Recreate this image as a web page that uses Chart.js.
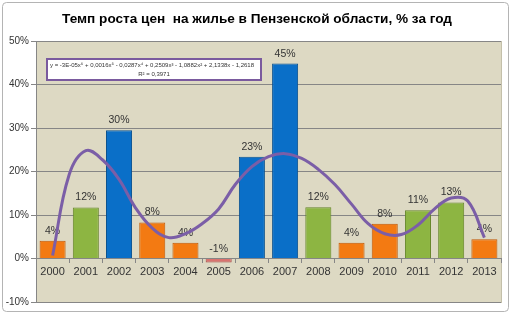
<!DOCTYPE html>
<html>
<head>
<meta charset="utf-8">
<script src="https://cdn.jsdelivr.net/npm/chart.js@4.4.1/dist/chart.umd.min.js"></script>
<style>
  html, body { margin: 0; padding: 0; background: #fff; }
  #wrap { width: 513px; height: 314px; }
</style>
</head>
<body>
<div id="wrap"><canvas id="chart"></canvas></div>
<script>
// years and price growth, % per year
const years = ['2000', '2001', '2002', '2003', '2004', '2005', '2006',
               '2007', '2008', '2009', '2010', '2011', '2012', '2013'];
const growth = [4.1, 11.7, 29.5, 8.3, 3.6, -0.9, 23.4, 44.8, 11.8, 3.6, 8.0, 11.1, 12.9, 4.4];

// polynomial trend line, every half year (0 = 2000)
const trendPos = [0, 0.5, 1, 1.5, 2, 2.5, 3, 3.5, 4, 4.5, 5, 5.5, 6, 6.5,
                  7, 7.5, 8, 8.5, 9, 9.5, 10, 10.5, 11, 11.5, 12, 12.5, 13];
const trendVal = [0.7, 19.3, 24.8, 22.7, 18.2, 11.6, 7.0, 4.8, 5.7, 8.0, 11.4, 17.0, 21.1, 23.4,
                  24.1, 23.0, 20.5, 17.0, 12.5, 8.0, 5.7, 5.5, 7.7, 11.4, 13.9, 13.2, 4.8];

const yMin = -10, yMax = 50, yStep = 10;
const trendLabel = ['y = -3E-05x\u2076 + 0,0016x\u2075 - 0,0287x\u2074 + 0,2509x\u00b3 - 1,0882x\u00b2 + 2,1338x - 1,2618',
                    'R\u00b2 = 0,3971'];
const title = 'Темп роста цен  на жилье в Пензенской области, % за год';

function barColor(v) {
    if (v < 0) return ['#d9736f', '#a94c48'];
    if (v < 10) return ['#f37a12', '#c25a06'];
    if (v < 20) return ['#8db542', '#66862a'];
    return ['#0a6fc8', '#08508f'];
}

const frame = {
    id: 'frame',
    beforeDraw(chart) {
        const ctx = chart.ctx;
        const a = chart.chartArea;
        ctx.save();
        ctx.fillStyle = '#fff';
        ctx.fillRect(0, 0, chart.width, chart.height);
        ctx.strokeStyle = '#b4b4b4';
        ctx.lineWidth = 1;
        ctx.beginPath();
        ctx.roundRect(2.5, 2.5, 506, 309, 4);
        ctx.stroke();
        // plot area
        ctx.fillStyle = '#ddd9c3';
        ctx.fillRect(a.left, a.top, a.right - a.left, a.bottom - a.top);
        ctx.strokeStyle = '#c4c0aa';
        ctx.strokeRect(a.left + 0.5, a.top + 0.5, a.right - a.left, a.bottom - a.top);
        // title
        ctx.fillStyle = '#000';
        ctx.font = 'bold 13.6px "Liberation Sans", Arial, sans-serif';
        ctx.textAlign = 'center';
        ctx.textBaseline = 'middle';
        ctx.fillText(title, 257, 19);
        ctx.restore();
    },
    afterDatasetDraw(chart, args) {
        if (args.index !== 0) return;
        const ctx = chart.ctx;
        const meta = chart.getDatasetMeta(0);
        const y0 = chart.scales.y.getPixelForValue(0);
        ctx.save();
        ctx.fillStyle = '#333';
        ctx.font = '10.5px "Liberation Sans", Arial, sans-serif';
        ctx.textAlign = 'center';
        ctx.textBaseline = 'middle';
        meta.data.forEach((bar, i) => {
            const v = growth[i];
            const y = v >= 0 ? bar.y - 10 : y0 - 9;
            ctx.fillText(Math.round(v) + '%', bar.x, y);
        });
        ctx.restore();
    },
    afterDraw(chart) {
        const ctx = chart.ctx;
        ctx.save();
        ctx.fillStyle = '#fff';
        ctx.fillRect(47, 59, 214, 21);
        ctx.strokeStyle = '#7a5a9e';
        ctx.lineWidth = 2;
        ctx.strokeRect(47, 59, 214, 21);
        ctx.fillStyle = '#333';
        ctx.font = '6px "Liberation Sans", Arial, sans-serif';
        ctx.textBaseline = 'middle';
        ctx.textAlign = 'left';
        ctx.fillText(trendLabel[0], 50, 65.5);
        ctx.textAlign = 'center';
        ctx.fillText(trendLabel[1], 154, 74);
        ctx.restore();
    }
};

new Chart(document.getElementById('chart'), {
    type: 'bar',
    data: {
        labels: years,
        datasets: [{
            type: 'bar',
            data: growth,
            backgroundColor: growth.map(v => barColor(v)[0]),
            borderColor: growth.map(v => barColor(v)[1]),
            borderWidth: 1,
            grouped: false,
            categoryPercentage: 0.8,
            barPercentage: 0.98,
            order: 2
        }, {
            type: 'line',
            xAxisID: 'xl',
            data: trendPos.map((p, i) => ({ x: p, y: trendVal[i] })),
            borderColor: '#7b5ea7',
            borderWidth: 3,
            pointRadius: 0,
            tension: 0.4,
            fill: false,
            order: 1
        }]
    },
    options: {
        responsive: true,
        maintainAspectRatio: false,
        animation: false,
        layout: { padding: { top: 41, right: 12, bottom: 12, left: 0 } },
        plugins: {
            legend: { display: false },
            tooltip: { enabled: false }
        },
        scales: {
            x: {
                position: { y: 0 },
                grid: { display: true, drawOnChartArea: false, offset: true, tickLength: 4, color: '#868686' },
                border: { color: '#868686' },
                ticks: { color: '#333', padding: 3, font: { size: 11, family: '"Liberation Sans", Arial, sans-serif' } }
            },
            xl: {
                type: 'linear',
                display: false,
                offset: false,
                min: -0.5,
                max: 13.5
            },
            y: {
                min: yMin,
                max: yMax,
                afterFit(scale) { scale.width = 36; },
                grid: { color: '#868686', tickLength: 5 },
                border: { color: '#868686' },
                ticks: {
                    stepSize: yStep,
                    color: '#333',
                    padding: 2,
                    font: { size: 10, family: '"Liberation Sans", Arial, sans-serif' },
                    callback: v => v + '%'
                }
            }
        }
    },
    plugins: [frame]
});
</script>
</body>
</html>
